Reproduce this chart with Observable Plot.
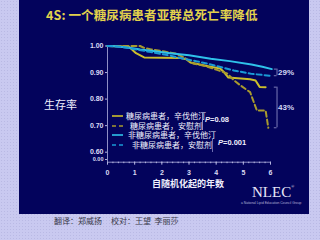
<!DOCTYPE html>
<html>
<head>
<meta charset="utf-8">
<script src="https://cdn.jsdelivr.net/npm/d3@7"></script>
<script src="https://cdn.jsdelivr.net/npm/@observablehq/plot@0.6"></script>
<style>
  html, body { margin: 0; padding: 0; }
  body {
    width: 320px; height: 240px; overflow: hidden; position: relative;
    background-color: #c9c9f0;
    background-image: radial-gradient(#b9b9e4 0.6px, transparent 0.7px);
    background-size: 3px 3px;
    font-family: "Noto Sans CJK SC", "Noto Sans", sans-serif;
  }
  #panel { position: absolute; left: 19px; top: 0; width: 290px; height: 214px; background: #03035c; }
  #title { position: absolute; left: 46px; top: 5px; font-size: 12.5px; font-weight: 700; color: #e2d24c; white-space: nowrap; letter-spacing: 0.1px; }
  #chart { position: absolute; left: 0; top: 0; }
  .lbl { position: absolute; color: #eeeefc; white-space: nowrap; line-height: 1; }
  #ylabel { left: 44px; top: 99px; font-size: 11px; }
  #xlabel { left: 152px; top: 179px; font-size: 9px; font-weight: 700; }
  #legend { position: absolute; left: 112px; top: 111px; }
  .row { position: absolute; left: 0; height: 10px; display: flex; align-items: center; }
  .row svg { width: 11px; height: 4px; margin-right: 2px; }
  .row span { font-size: 8px; color: #f0f0fc; line-height: 1; white-space: nowrap; }
  .pv { position: absolute; font-family: "Liberation Sans", Arial, sans-serif; font-size: 7.5px; font-weight: 700; color: #eeeefc; white-space: nowrap; line-height: 1; }
  .brk { position: absolute; width: 0; border-left: 1px solid #8c8cc4; }
  #nlec { position: absolute; left: 252px; top: 185px; font-family: "Liberation Serif", "DejaVu Serif", serif; font-size: 15px; color: #e8e8f8; line-height: 1; }
  #nlec sup { font-size: 4px; vertical-align: top; }
  #nlecsub { position: absolute; left: 241px; top: 202px; font-family: "Liberation Sans", sans-serif; font-size: 3.3px; color: #b4b4d8; white-space: nowrap; line-height: 1; }
  #footer { position: absolute; left: 54px; top: 217px; font-size: 8px; color: #3a3a4a; white-space: nowrap; line-height: 1; }
</style>
</head>
<body>
<div id="panel"></div>
<div id="title">4S: 一个糖尿病患者亚群总死亡率降低</div>
<div id="chart"></div>
<div class="lbl" id="ylabel">生存率</div>
<div class="lbl" id="xlabel">自随机化起的年数</div>
<div id="legend"></div>
<div class="brk" style="left:202px; top:112px; height:18px;"></div>
<div class="pv" style="left:205px; top:116px;"><i>P</i>=0.08</div>
<div class="brk" style="left:212px; top:139px; height:13px; border-color:#6c6cb0;"></div>
<div class="pv" style="left:218px; top:139px;"><i>P</i>=0.001</div>
<div id="nlec">NLEC<sup>®</sup></div>
<div id="nlecsub">a National Lipid Education Council Group</div>
<div id="footer">翻译：郑威扬&nbsp;&nbsp;&nbsp;&nbsp;&nbsp;校对：王望&nbsp;&nbsp;李丽莎</div>

<script>
// Kaplan–Meier survival, 4S trial: [years since randomisation, cumulative survival]
const dmSimvastatin = [
  [0, 1.000], [0.6, 0.998], [0.8, 0.996], [1.05, 0.973], [1.35, 0.957],
  [2.7, 0.955], [2.9, 0.950], [3.05, 0.938], [3.7, 0.924], [4.15, 0.915],
  [4.3, 0.900], [4.45, 0.881], [5.25, 0.875], [5.45, 0.870], [5.6, 0.846], [5.82, 0.845]
];
const dmPlacebo = [
  [0, 1.000], [1.2, 1.000], [1.35, 0.993], [1.6, 0.987], [2.1, 0.979],
  [2.5, 0.972], [2.8, 0.958], [3.15, 0.934], [3.55, 0.926], [4.0, 0.911],
  [4.4, 0.897], [4.65, 0.871], [4.9, 0.851], [5.25, 0.826], [5.5, 0.757],
  [5.82, 0.757], [5.92, 0.692]
];
const nonDmSimvastatin = [
  [0, 1.000], [0.3, 0.999], [0.8, 0.993], [1.2, 0.987], [1.6, 0.982],
  [2.3, 0.973], [3.0, 0.965], [3.8, 0.952], [4.5, 0.943], [5.3, 0.930],
  [5.7, 0.922], [6.05, 0.913]
];
const nonDmPlacebo = [
  [0, 1.000], [0.5, 0.997], [1.0, 0.988], [1.6, 0.977], [2.2, 0.966],
  [2.8, 0.952], [3.3, 0.942], [3.7, 0.933], [4.2, 0.920], [4.65, 0.908],
  [5.3, 0.895], [6.0, 0.888]
];

const seriesNames = ["糖尿病患者，辛伐他汀", "糖尿病患者，安慰剂", "非糖尿病患者，辛伐他汀", "非糖尿病患者，安慰剂"];
const seriesColors = ["#ccbe2c", "#a89a2e", "#2fc2ea", "#1a9ad6"];
const seriesDashed = [false, true, false, true];
const seriesData = [dmSimvastatin, dmPlacebo, nonDmSimvastatin, nonDmPlacebo];

const xTicks = [0, 1, 2, 3, 4, 5, 6];
const yTicks = [0.6, 0.7, 0.8, 0.9, 1.0];
const yBreak = 0.5725;          // broken-axis position labelled "0.00"
const yBottom = 0.5623;         // bottom of the frame
const reductionLabels = ["29%", "43%"];

const rows = seriesData.flatMap((pts, i) =>
  pts.map(([year, surv]) => ({year, surv, series: seriesNames[i]}))
);

const lastValue = arr => arr[arr.length - 1][1];
const brackets = [
  {lo: lastValue(nonDmPlacebo), hi: lastValue(nonDmSimvastatin), label: reductionLabels[0]},
  {lo: lastValue(dmPlacebo), hi: lastValue(dmSimvastatin), label: reductionLabels[1]}
];

const axisColor = "#b4b4e0";

const chart = Plot.plot({
  width: 320,
  height: 240,
  marginLeft: 107,
  marginRight: 50,
  marginTop: 45.5,
  marginBottom: 78.3,
  style: {background: "transparent", color: "#dcdcf4", fontFamily: "Liberation Sans, Arial, sans-serif", fontSize: "7px", overflow: "visible"},
  x: {domain: [0, 6]},
  y: {domain: [yBottom, 1.0]},
  marks: [
    Plot.ruleX([0], {y1: yBottom, y2: 1.0, stroke: axisColor, strokeWidth: 0.8}),
    Plot.ruleY([yBottom], {x1: 0, x2: 6, stroke: axisColor, strokeWidth: 0.8}),
    Plot.axisY({ticks: yTicks, tickFormat: d => d.toFixed(2),
      tickSize: 2, tickPadding: 2, fontWeight: "bold", label: null, stroke: axisColor}),
    Plot.axisY({ticks: [yBreak], tickFormat: () => "0.00", fontSize: 5.5,
      tickSize: 2, tickPadding: 2, fontWeight: "bold", label: null, stroke: axisColor}),
    Plot.axisX({ticks: d3.range(0, 6.01, 0.2), tickSize: 1.5, tickFormat: () => "", label: null, stroke: axisColor}),
    Plot.axisX({ticks: xTicks, tickFormat: d3.format("d"), tickSize: 3, tickPadding: 5, fontWeight: "bold", label: null, stroke: axisColor}),
    ...seriesData.map((pts, i) =>
      Plot.line(rows.filter(r => r.series === seriesNames[i]), {
        x: "year", y: "surv", stroke: seriesColors[i], strokeWidth: 2,
        strokeDasharray: seriesDashed[i] ? "5,3" : null, curve: "linear"
      })
    ),
    // brackets comparing end-of-study survival
    Plot.ruleX(brackets, {x: 6.24, y1: "lo", y2: "hi", stroke: "#9c9cd0", strokeWidth: 0.8}),
    Plot.ruleY(brackets, {y: "lo", x1: 6.14, x2: 6.24, stroke: "#9c9cd0", strokeWidth: 0.8}),
    Plot.ruleY(brackets, {y: "hi", x1: 6.14, x2: 6.24, stroke: "#9c9cd0", strokeWidth: 0.8}),
    Plot.text(brackets, {x: 6.28, y: d => (d.lo + d.hi) / 2, text: "label", textAnchor: "start",
      fill: "#d4d8f4", fontSize: 8, fontWeight: "bold"})
  ]
});
document.getElementById("chart").appendChild(chart);

// legend inside the plot area
const legend = document.getElementById("legend");
const legendTextGap = [1, 5, 3, 7];
seriesNames.forEach((name, i) => {
  const row = document.createElement("div");
  row.className = "row";
  row.style.top = (i * 9.6) + "px";
  row.innerHTML =
    `<svg viewBox="0 0 11 4"><line x1="0" y1="2" x2="11" y2="2" stroke="${seriesColors[i]}" stroke-width="1.6"` +
    (seriesDashed[i] ? ` stroke-dasharray="4,3"` : "") + `/></svg>` +
    `<span style="margin-left:${legendTextGap[i]}px">${name}</span>`;
  legend.appendChild(row);
});
</script>
</body>
</html>
